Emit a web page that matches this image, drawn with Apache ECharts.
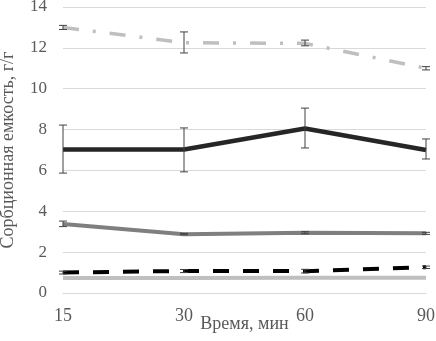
<!DOCTYPE html>
<html>
<head>
<meta charset="utf-8">
<script src="https://cdn.jsdelivr.net/npm/echarts@6/dist/echarts.min.js"></script>
<style>
  html, body { margin: 0; padding: 0; background: #fff; }
  #chart { width: 436px; height: 341px; }
</style>
</head>
<body>
<div id="chart"></div>
<script>
// время, мин
var categories = ["15", "30", "60", "90"];

// сорбционная емкость, г/г
var seriesDashDot = [13.0, 12.25, 12.22, 11.0];
var seriesBlack = [7.03, 7.02, 8.05, 7.0];
var seriesGray = [3.38, 2.88, 2.95, 2.92];
var seriesDashed = [1.0, 1.08, 1.07, 1.26];
var seriesLight = [0.74, 0.74, 0.75, 0.75];

// погрешности (нижняя / верхняя граница)
var errDashDotLow = [12.9, 11.75, 12.1, 10.92];
var errDashDotHigh = [13.1, 12.78, 12.38, 11.08];
var errBlackLow = [5.87, 5.93, 7.1, 6.56];
var errBlackHigh = [8.22, 8.08, 9.05, 7.54];
var errGrayLow = [3.25, 2.85, 2.9, 2.87];
var errGrayHigh = [3.52, 2.92, 3.0, 2.97];
var errDashedLow = [0.93, 1.0, 0.98, 1.2];
var errDashedHigh = [1.07, 1.15, 1.16, 1.32];

var yTicks = { min: 0, max: 14, interval: 2 };

function errData(low, high) {
  return low.map(function (v, i) { return [i, v, high[i]]; });
}

// усы погрешностей
function renderErr(params, api) {
  var lo = api.coord([api.value(0), api.value(1)]);
  var hi = api.coord([api.value(0), api.value(2)]);
  var w = 4;
  var st = { stroke: "#404040", lineWidth: 1 };
  return {
    type: "group",
    children: [
      { type: "line", shape: { x1: lo[0], y1: lo[1], x2: hi[0], y2: hi[1] }, style: st },
      { type: "line", shape: { x1: lo[0] - w, y1: lo[1], x2: lo[0] + w, y2: lo[1] }, style: st },
      { type: "line", shape: { x1: hi[0] - w, y1: hi[1], x2: hi[0] + w, y2: hi[1] }, style: st }
    ]
  };
}

function errSeries(low, high) {
  return {
    type: "custom",
    renderItem: renderErr,
    data: errData(low, high),
    encode: { x: 0, y: [1, 2] },
    z: 5,
    silent: true
  };
}

function lineSeries(data, color, width, type) {
  return {
    type: "line",
    data: data,
    symbol: "none",
    lineStyle: { color: color, width: width, type: type || "solid" },
    z: 3
  };
}

var fontFam = "Liberation Serif";
var textColor = "#595959";

var option = {
  backgroundColor: "#fff",
  animation: false,
  grid: { left: 63, right: 10, top: 7, bottom: 48, outerBoundsMode: "none", containLabel: false },
  xAxis: {
    type: "category",
    data: categories,
    boundaryGap: false,
    axisLine: { show: true, lineStyle: { color: "#d9d9d9" } },
    axisTick: { show: false },
    axisLabel: { color: textColor, fontFamily: fontFam, fontSize: 18, margin: 14 },
    name: "Время, мин",
    nameLocation: "middle",
    nameGap: 22,
    nameMoveOverlap: false,
    nameTextStyle: { color: textColor, fontFamily: fontFam, fontSize: 18 }
  },
  yAxis: {
    type: "value",
    min: yTicks.min,
    max: yTicks.max,
    interval: yTicks.interval,
    axisLine: { show: false },
    axisTick: { show: false },
    splitLine: { lineStyle: { color: "#d9d9d9", width: 1 } },
    axisLabel: { color: textColor, fontFamily: fontFam, fontSize: 17, margin: 16 },
    name: "Сорбционная емкость, г/г",
    nameLocation: "middle",
    nameGap: 46,
    nameMoveOverlap: false,
    nameTextStyle: { color: textColor, fontFamily: fontFam, fontSize: 18 }
  },
  series: [
    lineSeries(seriesLight, "#bfbfbf", 4),
    lineSeries(seriesDashed, "#000000", 4, [16, 14]),
    lineSeries(seriesGray, "#7f7f7f", 4),
    lineSeries(seriesBlack, "#262626", 4.5),
    lineSeries(seriesDashDot, "#bfbfbf", 3.5, [16, 14, 3, 14]),
    errSeries(errDashDotLow, errDashDotHigh),
    errSeries(errBlackLow, errBlackHigh),
    errSeries(errGrayLow, errGrayHigh),
    errSeries(errDashedLow, errDashedHigh)
  ]
};

var chartObj = echarts.init(document.getElementById("chart"));
chartObj.setOption(option);
</script>
</body>
</html>
